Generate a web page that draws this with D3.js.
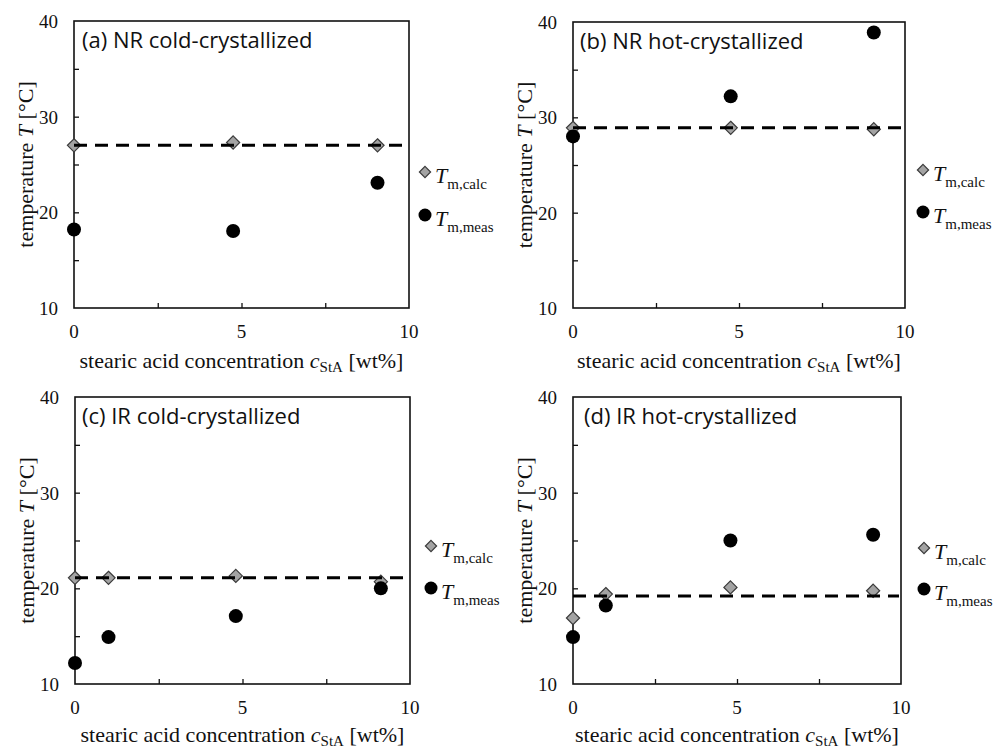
<!DOCTYPE html>
<html>
<head>
<meta charset="utf-8">
<script src="https://cdn.jsdelivr.net/npm/d3@7"></script>
<style>
  body { margin: 0; background: #fff; }
  svg { display: block; }
  .tick-label { font-family: "Liberation Serif", "Times New Roman", serif; font-size: 19px; fill: #111; }
  .axis-title { font-family: "Liberation Serif", "Times New Roman", serif; font-size: 22px; fill: #111; }
  .panel-title { font-family: "Open Sans", "Noto Sans", sans-serif; font-size: 22px; fill: #111; }
</style>
</head>
<body>
<svg id="chart"></svg>
<script>
const width = 993;
const height = 750;

// data
const panelTitles = ["(a) NR cold-crystallized", "(b) NR hot-crystallized", "(c) IR cold-crystallized", "(d) IR hot-crystallized"];
const xTickLabels = [0, 5, 10];
const yTickLabels = [10, 20, 30, 40];

const concA = [0, 4.75, 9.06];
const calcA = [27.0, 27.3, 27.0];
const measA = [18.2, 18.05, 23.1];
const avgA = 27.0;

const concB = [0, 4.75, 9.06];
const calcB = [28.9, 28.9, 28.75];
const measB = [28.0, 32.2, 38.9];
const avgB = 28.9;

const concC = [0, 1.0, 4.8, 9.13];
const calcC = [21.1, 21.1, 21.3, 20.7];
const measC = [12.2, 14.9, 17.1, 20.0];
const avgC = 21.1;

const concD = [0, 1.0, 4.8, 9.15];
const calcD = [16.9, 19.4, 20.1, 19.75];
const measD = [14.9, 18.2, 25.0, 25.6];
const avgD = 19.2;

// layout of each panel (pixels)
const boxes = [
  { left: 74, top: 21, right: 409, bottom: 308, legX: 425, legY: [172, 215], titleDx: 8 },
  { left: 573, top: 22, right: 905, bottom: 308, legX: 923, legY: [170, 212], titleDx: 7 },
  { left: 75, top: 397, right: 410, bottom: 684, legX: 431, legY: [546, 588], titleDx: 7 },
  { left: 573, top: 397, right: 901, bottom: 684, legX: 924, legY: [548, 589], titleDx: 11 }
];

const panels = [
  { conc: concA, calc: calcA, meas: measA, avg: avgA },
  { conc: concB, calc: calcB, meas: measB, avg: avgB },
  { conc: concC, calc: calcC, meas: measC, avg: avgC },
  { conc: concD, calc: calcD, meas: measD, avg: avgD }
];

const svg = d3.select("#chart")
  .attr("width", width)
  .attr("height", height);

const diamond = d3.symbol().type(d3.symbolDiamond2);

panels.forEach((p, i) => {
  const b = boxes[i];
  const x = d3.scaleLinear().domain([0, 10]).range([b.left, b.right]);
  const y = d3.scaleLinear().domain([10, 40]).range([b.bottom, b.top]);
  const g = svg.append("g");

  // inward ticks
  g.append("g")
    .attr("transform", `translate(0,${b.bottom})`)
    .call(d3.axisTop(x).tickValues([2.5, 5, 7.5]).tickSize(5).tickFormat(""))
    .call(a => a.select(".domain").remove())
    .selectAll("line").attr("stroke", "#111").attr("stroke-width", 1.3);
  g.append("g")
    .attr("transform", `translate(${b.left},0)`)
    .call(d3.axisRight(y).tickValues([15, 20, 25, 30, 35]).tickSize(5).tickFormat(""))
    .call(a => a.select(".domain").remove())
    .selectAll("line").attr("stroke", "#111").attr("stroke-width", 1.3);

  // tick labels
  g.selectAll(".xl").data(xTickLabels).join("text")
    .attr("class", "tick-label")
    .attr("x", d => x(d))
    .attr("y", b.bottom + 30)
    .attr("text-anchor", "middle")
    .text(d => d);
  g.selectAll(".yl").data(yTickLabels).join("text")
    .attr("class", "tick-label")
    .attr("x", b.left - 16)
    .attr("y", d => y(d) + 7)
    .attr("text-anchor", "end")
    .text(d => d);

  // plot frame
  g.append("rect")
    .attr("x", b.left).attr("y", b.top)
    .attr("width", b.right - b.left).attr("height", b.bottom - b.top)
    .attr("fill", "none").attr("stroke", "#111").attr("stroke-width", 1.6);

  // axis titles
  const xt = g.append("text")
    .attr("class", "axis-title")
    .attr("x", (b.left + b.right) / 2)
    .attr("y", Math.min(b.bottom + 60, 742))
    .attr("text-anchor", "middle");
  xt.append("tspan").text("stearic acid concentration ");
  xt.append("tspan").attr("font-style", "italic").text("c");
  xt.append("tspan").attr("font-size", "15px").attr("dy", 4).text("StA");
  xt.append("tspan").attr("dy", -4).text(" [wt%]");

  const yt = g.append("text")
    .attr("class", "axis-title")
    .attr("transform", `translate(${b.left - 41},${(b.top + b.bottom) / 2}) rotate(-90)`)
    .attr("text-anchor", "middle");
  yt.append("tspan").text("temperature ");
  yt.append("tspan").attr("font-style", "italic").text("T");
  yt.append("tspan").text(" [°C]");

  // panel title
  g.append("text")
    .attr("class", "panel-title")
    .attr("x", b.left + b.titleDx)
    .attr("y", b.top + 27)
    .text(panelTitles[i]);

  // calculated values
  g.selectAll(".calc").data(p.conc).join("path")
    .attr("class", "calc")
    .attr("d", diamond.size(110))
    .attr("transform", (d, j) => `translate(${x(d)},${y(p.calc[j])})`)
    .attr("fill", "#a3a3a3")
    .attr("stroke", "#3a3a3a")
    .attr("stroke-width", 1.2);

  // measured values
  g.selectAll(".meas").data(p.conc).join("circle")
    .attr("class", "meas")
    .attr("cx", d => x(d))
    .attr("cy", (d, j) => y(p.meas[j]))
    .attr("r", 7)
    .attr("fill", "#000");

  // mean of calculated values
  g.append("line")
    .attr("x1", x(0)).attr("x2", b.right - 2)
    .attr("y1", y(p.avg)).attr("y2", y(p.avg))
    .attr("stroke", "#000")
    .attr("stroke-width", 3)
    .attr("stroke-dasharray", "13,8");

  // legend
  g.append("path")
    .attr("d", diamond.size(80))
    .attr("transform", `translate(${b.legX},${b.legY[0]})`)
    .attr("fill", "#a3a3a3")
    .attr("stroke", "#3a3a3a")
    .attr("stroke-width", 1.2);
  g.append("circle")
    .attr("cx", b.legX).attr("cy", b.legY[1])
    .attr("r", 6.5).attr("fill", "#000");

  ["m,calc", "m,meas"].forEach((sub, k) => {
    const t = g.append("text")
      .attr("class", "axis-title")
      .attr("x", b.legX + 10)
      .attr("y", b.legY[k] + 11);
    t.append("tspan").attr("font-style", "italic").text("T");
    t.append("tspan").attr("font-size", "15px").attr("dy", 6).text(sub);
  });
});
</script>
</body>
</html>
